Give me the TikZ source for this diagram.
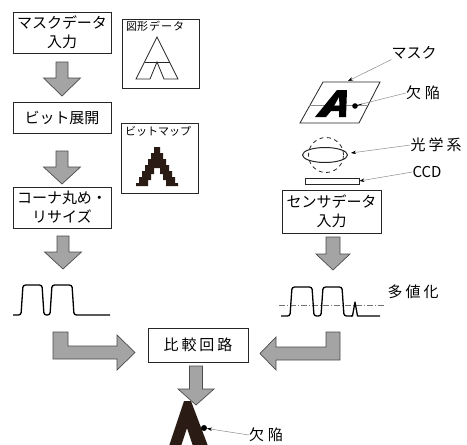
\documentclass[tikz,border=0pt]{standalone}
\usepackage{fontspec}
\setmainfont{Noto Sans CJK JP}
\usetikzlibrary{arrows.meta}
\definecolor{ink}{HTML}{2A1C14}
\definecolor{arrowfill}{HTML}{A4A4A4}
\tikzset{
  procbox/.style={draw=black!85, line width=0.8pt, minimum width=98pt, inner sep=0pt,
    align=center, font=\fontsize{15}{19}\selectfont},
  insetbox/.style={draw=black!85, line width=0.8pt, inner sep=0pt,
    minimum width=77pt, minimum height=69pt},
  insetlabel/.style={anchor=north west, inner sep=0pt, font=\fontsize{11}{13}\selectfont},
  blockarrow/.style={fill=arrowfill, draw=black!70, line width=0.7pt, line join=miter},
  leader/.style={draw=black!45, line width=0.5pt},
  leadertip/.style={-{Stealth[length=5pt,width=3.5pt,color=black]}},
  callout/.style={inner sep=0pt, font=\fontsize{15}{18}\selectfont},
  wave/.style={line width=1.3pt, rounded corners=2.5pt},
  part/.style={draw=black!85, line width=0.8pt}
}
% vertical block arrow: centre x, top, head base, tip, shaft half width, head half width
\newcommand\DownBlock[6]{%
  \draw[blockarrow] ({#1-#5},#2) -- ({#1+#5},#2) -- ({#1+#5},#3) -- ({#1+#6},#3)
    -- (#1,#4) -- ({#1-#6},#3) -- ({#1-#5},#3) -- cycle;}
\begin{document}
\begin{tikzpicture}[x=1pt,y=-1pt]
\useasboundingbox (0,0) rectangle (467,445);
\fill[white] (0,0) rectangle (467,445);

% ---------- left column: mask data path ----------
\node[procbox, minimum height=41pt] (maskin) at (62,32.5) {マスクデータ\\入力};
\node[procbox, minimum height=31pt] (bitexp) at (62,117.5) {ビット展開};
\node[procbox, minimum height=41pt] (resize) at (62,207.5) {コーナ丸め・\\リサイズ};

\DownBlock{62}{62}{78}{96}{6}{18.5}
\DownBlock{62}{151}{167}{184}{6}{18.5}
\DownBlock{63}{236}{252}{269}{6}{18.5}

% figure data inset
\node[insetbox] (figdata) at (160.5,53.5) {};
\node[insetlabel] (figlabel) at (126,21) {図形\kern1pt デ\kern1pt ー\kern1pt タ};
\draw[part, line join=miter] (136,79) -- (157,37) -- (178,79) -- (164,79) -- (157,62) -- (150,79) -- cycle;
\draw[part] (144.5,62) -- (169.5,62);

% bitmap inset
\node[insetbox, minimum height=70pt] (bitmap) at (159.5,158) {};
\node[insetlabel] (bitlabel) at (125,126) {ビットマップ};
\foreach \i/\w/\v in {0/3/0,1/3/0,2/6/0,3/6/0,4/9/0,5/9/0,6/12/0,7/12/3,8/15/3,
                      9/15/6,10/18/6,11/18/9,12/21/9}
  \fill[ink] ({157-\w},{147+3*\i}) rectangle ({157-\v},{150+3*\i})
             ({157+\v},{147+3*\i}) rectangle ({157+\w},{150+3*\i});

% reference waveform
\draw[wave] (13,315) -- (21,315) -- (23,285) -- (42,285) -- (44,315) -- (50,315)
  -- (52,285) -- (72,285) -- (74,315) -- (110,315);

% ---------- right column: sensing path ----------
% mask plate
\coordinate (maskTL) at (323,82);
\coordinate (maskTR) at (380,82);
\coordinate (maskBR) at (359,123);
\coordinate (maskBL) at (300,123);
\draw[part] (maskTL) -- (maskTR) -- (maskBR) -- (maskBL) -- cycle;
\draw[black!45, line width=0.5pt] (309,105) -- (369,105);
% slanted bold "A" pattern on the plate, with its small counter
\fill[black, even odd rule] (315,117) -- (337,90) -- (347,90) -- (346,117) -- (339,117)
  -- (339,111) -- (331,111) -- (326,117) -- cycle
  (339,97) -- (339.5,106) -- (334,106) -- cycle;
\fill[black] (355,106) circle[radius=2.8pt];
\coordinate (maskdefect) at (355,106);

% optics and sensor
\draw[black!85, line width=0.8pt, dash pattern=on 4pt off 3.5pt] (326,155) circle[radius=17.5pt];
\draw[black!85, line width=1pt] (325,155) ellipse[x radius=22.5pt, y radius=7.5pt];
\node[draw=black!85, line width=0.8pt, minimum width=54pt, minimum height=6pt, inner sep=0pt]
  (ccd) at (332,181) {};

\node[procbox, minimum width=99pt, minimum height=43pt] (sensin) at (331.5,211.5) {センサデータ\\入力};
\DownBlock{333}{237}{254}{270}{7}{17}

% captured waveform with threshold
\draw[black!55, line width=0.5pt, dash pattern=on 6pt off 2pt on 1pt off 2pt] (279,305) -- (386,305);
\draw[wave] (281,316) -- (290,316) -- (292,287) -- (312,287) -- (314,316) -- (321,316)
  -- (323,287) -- (342,287) -- (344,316) -- (352,316);
\draw[line width=1.3pt, line join=round] (351,316) -- (352.5,316) -- (355,302) -- (357.5,316) -- (380,316);

% callouts
\node[callout] (lblmask) at (414,53) {マスク};
\node[callout] (lbldef1) at (423,93) {欠\kern4pt 陥};
\node[callout] (lbloptic) at (436,145) {光\kern3pt 学\kern3pt 系};
\node[callout] (lblccd) at (427,172) {CCD};
\node[callout] (lblmulti) at (413,292) {多\kern3pt 値\kern3pt 化};

\draw[leader, leadertip] (lblmask.south west) -- (348,81);
\draw[black, line width=0.8pt] (maskdefect) -- (362,104);
\draw[leader] (362,104) -- (lbldef1.west);
\draw[leader, leadertip] (lbloptic.west) -- (351,153);
\draw[leader, leadertip] (lblccd.west) -- (ccd.east);

% ---------- comparison ----------
\node[procbox, minimum width=100pt, minimum height=34pt] (compare) at (198,345)
  {比\kern3pt 較\kern3pt 回\kern3pt 路};

\draw[blockarrow] (53,332) -- (68,332) -- (68,346) -- (117,346) -- (117,335) -- (135,352.5)
  -- (117,370) -- (117,359) -- (53,359) -- cycle;
\draw[blockarrow] (340,332) -- (326,332) -- (326,347) -- (276,347) -- (276,337) -- (260,353.5)
  -- (276,370) -- (276,360) -- (340,360) -- cycle;

% detected pattern with its defect
\fill[ink] (184,401) -- (191,401) -- (208,446) -- (193,446) -- (187,428) -- (181,446)
  -- (169,446) -- cycle;
\fill[black] (204,428) circle[radius=3pt];
\coordinate (outdefect) at (207,428.5);
\DownBlock{196}{366}{389}{405}{6.5}{18}

\node[callout] (lbldef2) at (266,435) {欠\kern4pt 陥};
\draw[leader, leadertip] (lbldef2.west) -- (outdefect);
\end{tikzpicture}
\end{document}
